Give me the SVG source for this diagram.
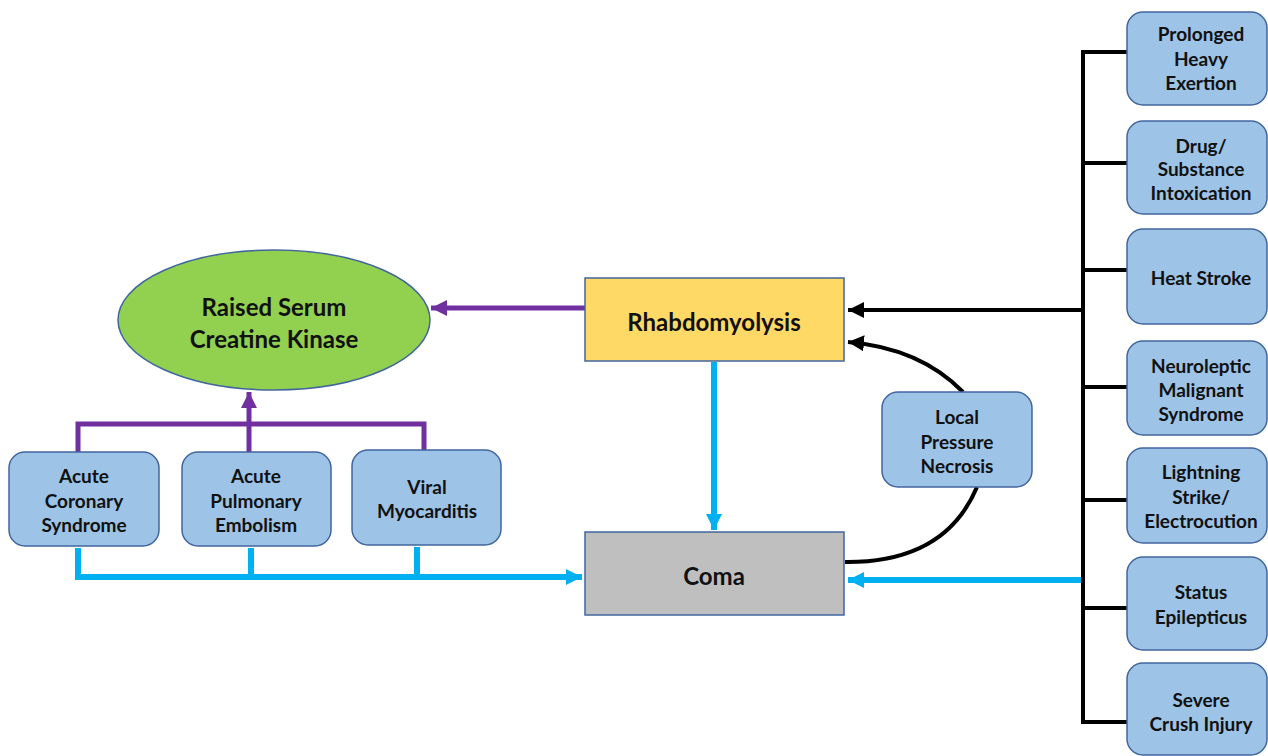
<svg xmlns="http://www.w3.org/2000/svg" width="1268" height="756" viewBox="0 0 1268 756">
<style>
text{font-family:Lato,"Open Sans","Liberation Sans",sans-serif;font-weight:bold;fill:#111;text-anchor:middle;dominant-baseline:central}
.s{font-size:19px}
.l{font-size:24px}
.box{fill:#9DC3E6;stroke:#41669E;stroke-width:1.5}
.p{stroke:#7030A0;stroke-width:5;fill:none}
.b{stroke:#00B0F0;stroke-width:6;fill:none}
.k{stroke:#000;stroke-width:4;fill:none}
</style>
<defs>
<marker id="ap" markerUnits="userSpaceOnUse" markerWidth="20" markerHeight="20" refX="16" refY="8" orient="auto"><path d="M0,0 L16,8 L0,16 z" fill="#7030A0"/></marker>
<marker id="ab" markerUnits="userSpaceOnUse" markerWidth="20" markerHeight="20" refX="16" refY="8" orient="auto"><path d="M0,0 L16,8 L0,16 z" fill="#00B0F0"/></marker>
<marker id="ak" markerUnits="userSpaceOnUse" markerWidth="20" markerHeight="20" refX="16" refY="8" orient="auto"><path d="M0,0 L16,8 L0,16 z" fill="#000"/></marker>
</defs>
<rect width="1268" height="756" fill="#fff"/>
<g id="connectors">
<line class="p" x1="585" y1="308" x2="431" y2="308" marker-end="url(#ap)"/>
<polyline class="p" points="78,452 78,424 424,424 424,450"/>
<line class="p" x1="249" y1="452" x2="249" y2="392" marker-end="url(#ap)"/>
<polyline class="b" points="78,548 78,577 417,577 417,547"/>
<line class="b" x1="251" y1="548" x2="251" y2="577"/>
<line class="b" x1="417" y1="577" x2="582" y2="577" marker-end="url(#ab)"/>
<line class="b" x1="714" y1="362" x2="714" y2="530" marker-end="url(#ab)"/>
<line class="b" x1="1083" y1="580" x2="848" y2="580" marker-end="url(#ab)"/>
<line class="k" x1="1083" y1="50" x2="1083" y2="724"/>
<line class="k" x1="1081" y1="52" x2="1127" y2="52"/>
<line class="k" x1="1083" y1="163" x2="1127" y2="163"/>
<line class="k" x1="1083" y1="270" x2="1127" y2="270"/>
<line class="k" x1="1083" y1="387" x2="1127" y2="387"/>
<line class="k" x1="1083" y1="500" x2="1127" y2="500"/>
<line class="k" x1="1083" y1="608" x2="1127" y2="608"/>
<line class="k" x1="1081" y1="722" x2="1127" y2="722"/>
<line class="k" x1="1083" y1="310" x2="848" y2="310" marker-end="url(#ak)"/>
<path class="k" d="M963,392 Q920,348 848,342" marker-end="url(#ak)"/>
<path class="k" d="M977,487 Q945,563 845,562"/>
</g>
<g id="ck">
<ellipse cx="274" cy="320" rx="156" ry="70" fill="#92D050" stroke="#41669E" stroke-width="1.5"/>
<text class="l" x="274" y="306">Raised Serum</text>
<text class="l" x="274" y="338">Creatine Kinase</text>
</g>
<g id="rhabdo">
<rect x="585" y="278" width="259" height="83" fill="#FFD966" stroke="#41669E" stroke-width="1.5"/>
<text class="l" x="714" y="321">Rhabdomyolysis</text>
</g>
<g id="coma">
<rect x="585" y="532" width="259" height="83" fill="#BFBFBF" stroke="#41669E" stroke-width="1.5"/>
<text class="l" x="714" y="575">Coma</text>
</g>
<g id="local">
<rect class="box" x="882" y="392" width="150" height="95" rx="16"/>
<text class="s" x="957" y="416">Local</text>
<text class="s" x="957" y="441">Pressure</text>
<text class="s" x="957" y="465">Necrosis</text>
</g>
<g id="acs">
<rect class="box" x="9" y="452" width="150" height="94" rx="16"/>
<text class="s" x="84" y="475">Acute</text>
<text class="s" x="84" y="500">Coronary</text>
<text class="s" x="84" y="524">Syndrome</text>
</g>
<g id="ape">
<rect class="box" x="182" y="452" width="149" height="94" rx="16"/>
<text class="s" x="256" y="475">Acute</text>
<text class="s" x="256" y="500">Pulmonary</text>
<text class="s" x="256" y="524">Embolism</text>
</g>
<g id="viral">
<rect class="box" x="352" y="450" width="149" height="95" rx="16"/>
<text class="s" x="427" y="486">Viral</text>
<text class="s" x="427" y="510">Myocarditis</text>
</g>
<g id="exertion">
<rect class="box" x="1127" y="12" width="140" height="93" rx="16"/>
<text class="s" x="1201" y="33">Prolonged</text>
<text class="s" x="1201" y="58">Heavy</text>
<text class="s" x="1201" y="82">Exertion</text>
</g>
<g id="drug">
<rect class="box" x="1127" y="121" width="140" height="93" rx="16"/>
<text class="s" x="1201" y="145">Drug/</text>
<text class="s" x="1201" y="168">Substance</text>
<text class="s" x="1201" y="192">Intoxication</text>
</g>
<g id="heat">
<rect class="box" x="1127" y="229" width="140" height="95" rx="16"/>
<text class="s" x="1201" y="277">Heat Stroke</text>
</g>
<g id="nms">
<rect class="box" x="1127" y="341" width="140" height="94" rx="16"/>
<text class="s" x="1201" y="365">Neuroleptic</text>
<text class="s" x="1201" y="389">Malignant</text>
<text class="s" x="1201" y="413">Syndrome</text>
</g>
<g id="lightning">
<rect class="box" x="1127" y="448" width="140" height="95" rx="16"/>
<text class="s" x="1201" y="471">Lightning</text>
<text class="s" x="1201" y="496">Strike/</text>
<text class="s" x="1201" y="520">Electrocution</text>
</g>
<g id="status">
<rect class="box" x="1127" y="557" width="140" height="93" rx="16"/>
<text class="s" x="1201" y="591">Status</text>
<text class="s" x="1201" y="616">Epilepticus</text>
</g>
<g id="crush">
<rect class="box" x="1127" y="663" width="140" height="92" rx="16"/>
<text class="s" x="1201" y="699">Severe</text>
<text class="s" x="1201" y="723">Crush Injury</text>
</g>
</svg>
